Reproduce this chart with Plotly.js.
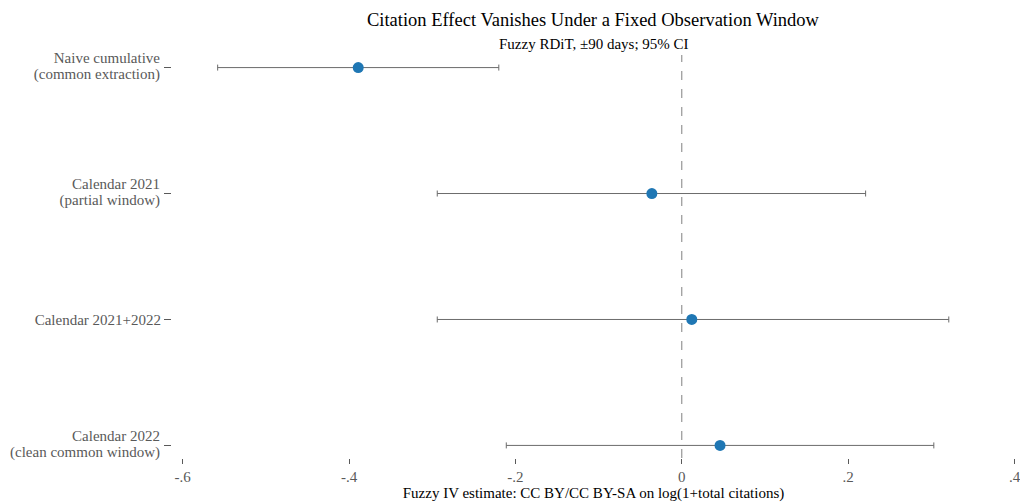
<!DOCTYPE html>
<html>
<head>
<meta charset="utf-8">
<script src="https://cdn.plot.ly/plotly-3.0.1.min.js"></script>
<style>html,body{margin:0;padding:0;background:#fff;}#chart{width:1020px;height:502px;}</style>
</head>
<body>
<div id="chart"></div>
<script>
const categories = ["Naive cumulative<br>(common extraction)", "Calendar 2021<br>(partial window)", "Calendar 2021+2022", "Calendar 2022<br>(clean common window)"];
const positions = [1, 2, 3, 4];
const estimates = [-0.389, -0.036, 0.012, 0.046];
const ciLow = [-0.558, -0.294, -0.294, -0.211];
const ciHigh = [-0.220, 0.221, 0.321, 0.303];
const xTickVals = [-0.6, -0.4, -0.2, 0, 0.2, 0.4];
const xTickText = ["-.6", "-.4", "-.2", "0", ".2", ".4"];

const font = "Liberation Serif";
const trace = {
  type: "scatter", mode: "markers",
  x: estimates, y: positions,
  marker: {color: "#1f77b4", size: 11},
  error_x: {
    type: "data", symmetric: false,
    array: estimates.map((e, i) => ciHigh[i] - e),
    arrayminus: estimates.map((e, i) => e - ciLow[i]),
    color: "#6b6b6b", thickness: 1, width: 3
  },
  hoverinfo: "skip", showlegend: false
};
const layout = {
  width: 1020, height: 502,
  margin: {l: 172, r: 5, t: 55, b: 44},
  paper_bgcolor: "#fff", plot_bgcolor: "#fff",
  font: {family: font, size: 15, color: "#595959"},
  xaxis: {
    range: [-0.6129, 0.4006], tickvals: xTickVals, ticktext: xTickText,
    showgrid: false, zeroline: false, showline: false,
    ticks: "outside", ticklen: 5, tickcolor: "#595959", tickwidth: 1,
    ticklabeloverflow: "allow",
    tickfont: {family: font, size: 15, color: "#595959"},
    title: {text: "Fuzzy IV estimate: CC BY/CC BY-SA on log(1+total citations)", font: {family: font, size: 15, color: "#000"}, standoff: 1}
  },
  yaxis: {
    range: [4.1, 0.9], tickvals: positions, ticktext: categories,
    showgrid: false, zeroline: false, showline: false,
    ticks: "outside", ticklen: 7, tickcolor: "#595959", tickwidth: 1,
    tickfont: {family: font, size: 15, color: "#595959"}
  },
  shapes: [{type: "line", xref: "x", yref: "paper", x0: 0, x1: 0, y0: 0, y1: 1,
    line: {color: "#808080", width: 1, dash: "dash"}, layer: "below"}],
  annotations: [
    {text: "Citation Effect Vanishes Under a Fixed Observation Window", xref: "paper", yref: "paper", x: 0.5, y: 1, yshift: 35, xanchor: "center", yanchor: "middle", showarrow: false, font: {family: font, size: 18.5, color: "#000"}},
    {text: "Fuzzy RDiT, ±90 days; 95% CI", xref: "paper", yref: "paper", x: 0.5, y: 1, yshift: 11, xanchor: "center", yanchor: "middle", showarrow: false, font: {family: font, size: 15, color: "#000"}}
  ]
};
Plotly.newPlot("chart", [trace], layout, {staticPlot: true, displayModeBar: false}).then(function () {
  // tighten line spacing of two-line category labels
  document.querySelectorAll("#chart .ytick text").forEach(function (t) {
    const lines = t.querySelectorAll("tspan.line");
    if (lines.length > 1) {
      lines.forEach(function (ln, i) { ln.setAttribute("dy", (i * 1.07) + "em"); });
      const prev = t.getAttribute("transform") || "";
      t.setAttribute("transform", prev + " translate(-1,-0.3)");
    }
  });
});
</script>
</body>
</html>
